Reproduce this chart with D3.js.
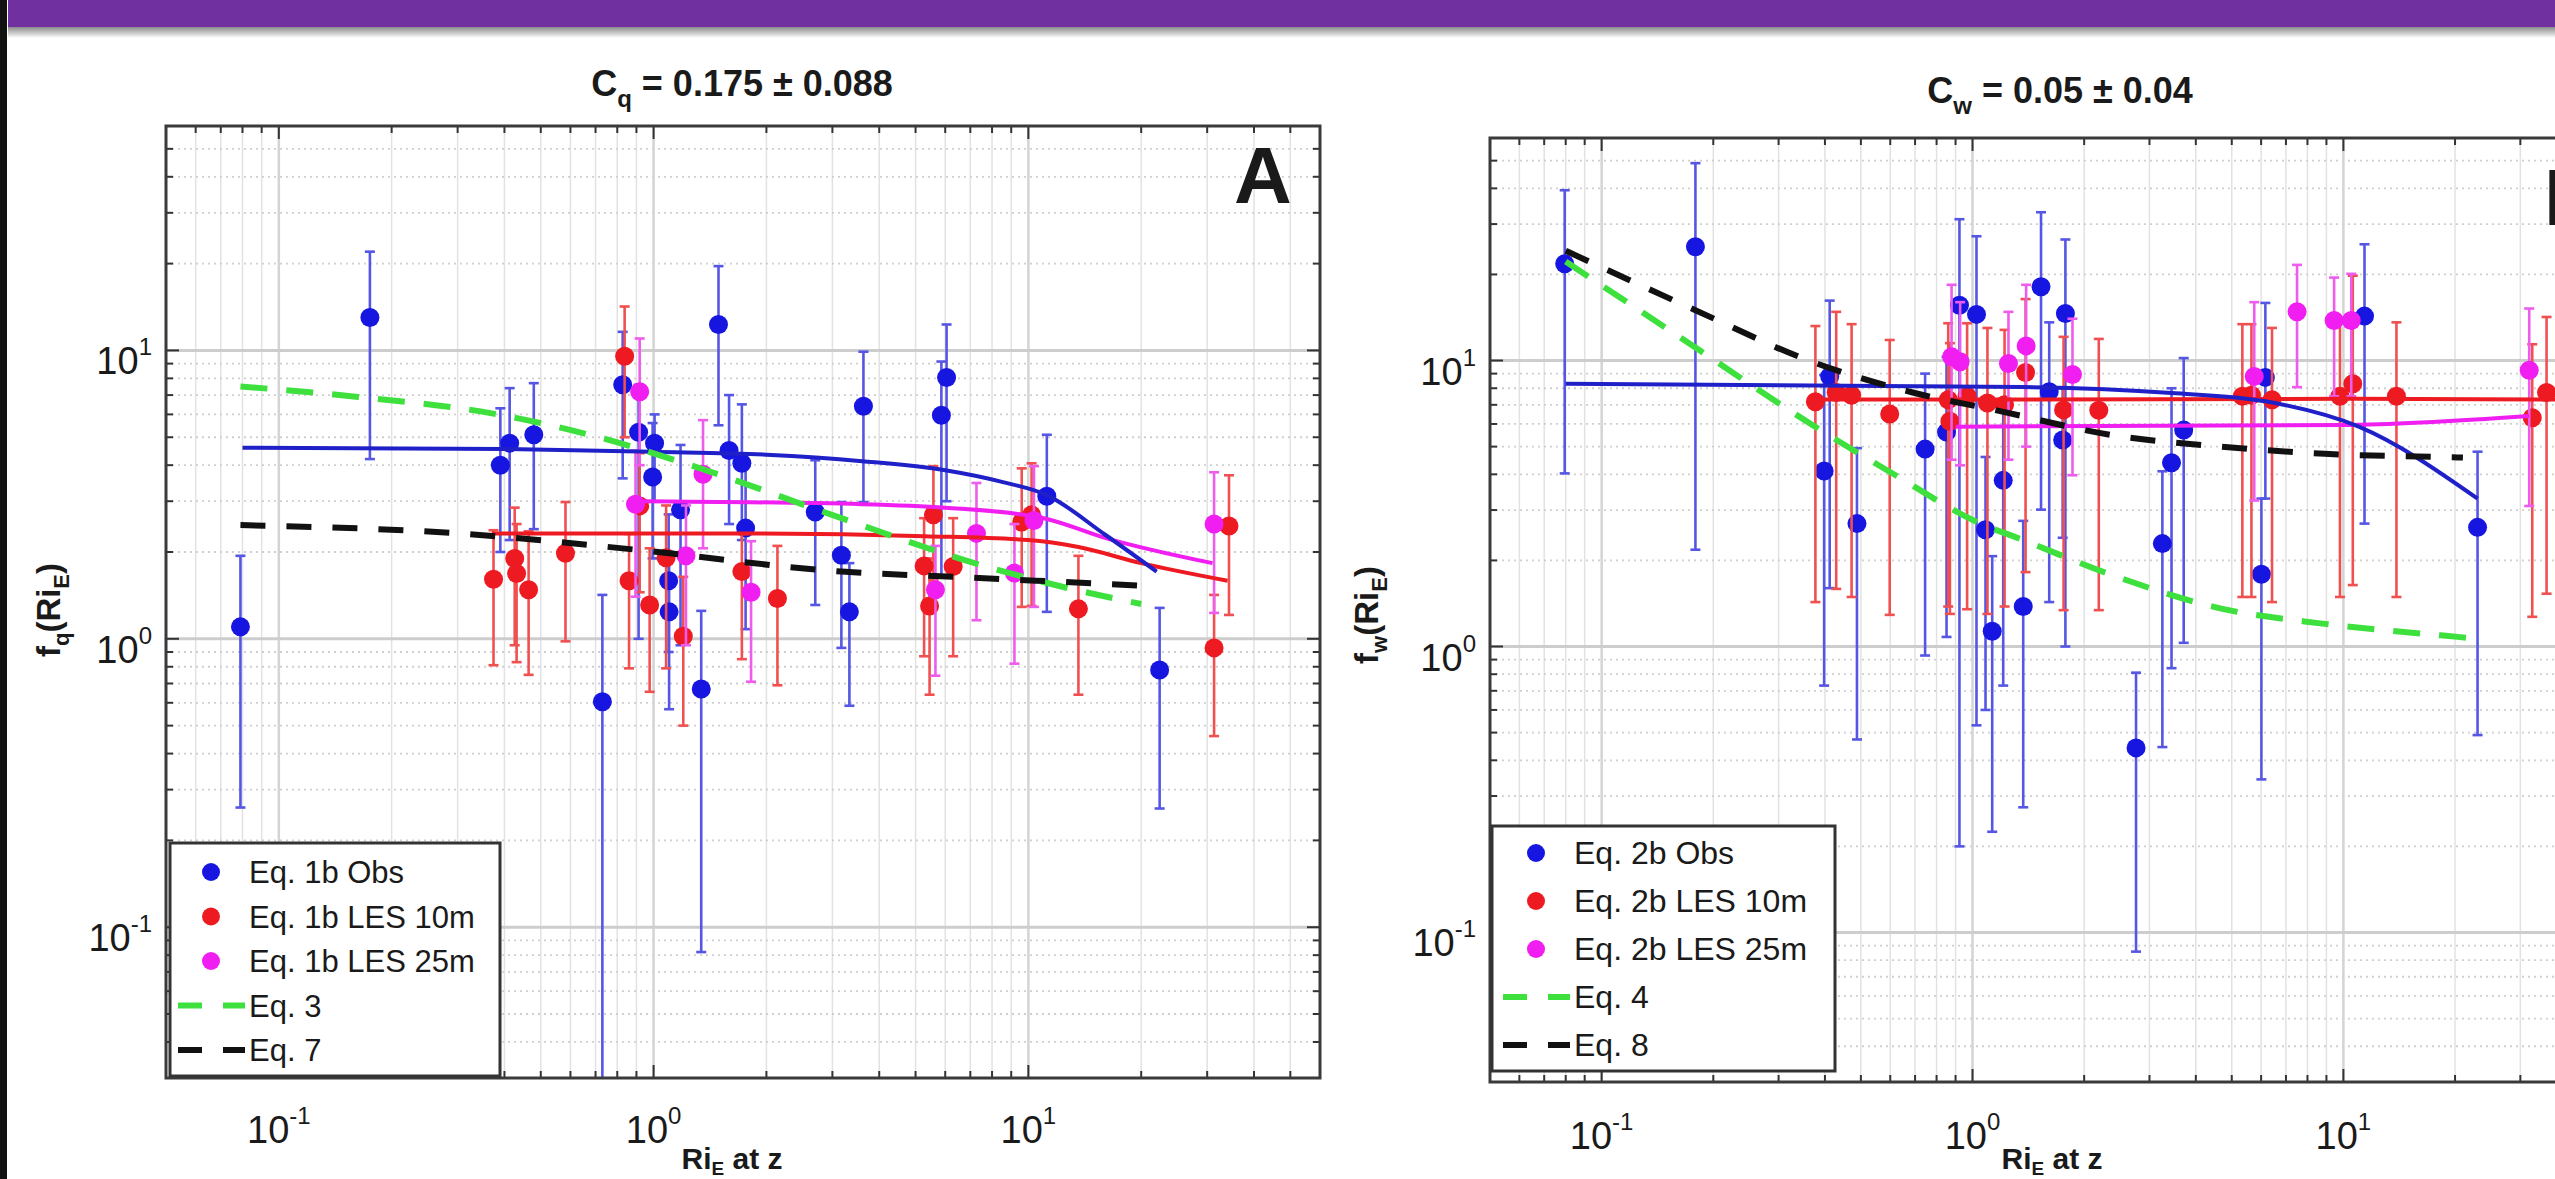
<!DOCTYPE html>
<html>
<head>
<meta charset="utf-8">
<title>f(Ri_E) fits</title>
<script src="https://d3js.org/d3.v7.min.js"></script>
<style>
  body {margin: 0; background: #fff;}
  text {font-family: 'Liberation Sans', Arial, Helvetica, sans-serif; fill: #1a1a1a;}
</style>
</head>
<body>
<svg width="2555" height="1179"></svg>
<script>
// ---- data: [Ri_E, f, lower, upper] ----
var obsQ = [
  [0.079, 1.10, 0.26, 1.94], [0.175, 13.0, 4.2, 22], [0.39, 4.0, 2.0, 6.3], [0.413, 4.77, 2.2, 7.4],
  [0.479, 5.1, 2.4, 7.7], [0.73, 0.605, 0.02, 1.42], [0.827, 7.6, 3.6, 11.6], [0.912, 5.2, 1.0, 7.6],
  [0.994, 3.64, 1.9, 5.6], [1.006, 4.77, 3.0, 6.0], [1.097, 1.59, 0.9, 2.7], [1.10, 1.24, 0.57, 2.0],
  [1.18, 2.8, 0.95, 4.7], [1.34, 0.67, 0.082, 1.25], [1.49, 12.3, 5.5, 19.6], [1.59, 4.5, 2.5, 7.0],
  [1.72, 4.06, 2.2, 6.5], [1.76, 2.42, 1.08, 4.0], [2.7, 2.75, 1.31, 4.16], [3.17, 1.95, 0.93, 2.98],
  [3.33, 1.24, 0.586, 1.83], [3.63, 6.4, 2.98, 9.9], [6.05, 8.05, 3.0, 12.3], [5.86, 5.96, 1.64, 9.15],
  [11.2, 3.12, 1.24, 5.1], [22.4, 0.78, 0.258, 1.28]
];
var les10Q = [
  [0.374, 1.61, 0.81, 2.38], [0.426, 1.90, 0.95, 2.85], [0.431, 1.685, 0.83, 2.5], [0.464, 1.48, 0.75, 2.36],
  [0.582, 1.98, 0.98, 2.98], [0.837, 9.55, 5.0, 14.2], [0.86, 1.59, 0.79, 2.31], [0.918, 2.89, 1.45, 4.4],
  [0.976, 1.31, 0.655, 2.06], [1.08, 1.91, 0.79, 2.9], [1.2, 1.02, 0.50, 1.64], [1.72, 1.71, 0.85, 2.31],
  [2.14, 1.38, 0.69, 2.1], [5.27, 1.79, 0.87, 2.62], [5.45, 1.30, 0.64, 1.9], [5.58, 2.69, 1.6, 3.97],
  [6.3, 1.78, 0.87, 2.62], [9.6, 2.54, 1.29, 3.9], [10.2, 2.69, 1.3, 4.06], [13.6, 1.27, 0.64, 1.94],
  [31.3, 0.93, 0.46, 1.42], [34.3, 2.46, 1.21, 3.69]
];
var les25Q = [
  [0.918, 7.19, 4.0, 11.0], [0.895, 2.93, 1.4, 4.5], [1.355, 3.72, 2.06, 5.73], [1.22, 1.94, 0.95, 2.9],
  [1.82, 1.45, 0.71, 2.18], [5.65, 1.48, 0.745, 2.1], [7.27, 2.32, 1.16, 3.47], [9.18, 1.69, 0.82, 2.5],
  [10.35, 2.57, 1.29, 3.97], [31.3, 2.5, 1.23, 3.78]
];
var fitObsQ = [[0.08, 4.6], [0.4, 4.55], [1, 4.45], [2, 4.35], [3.6, 4.13], [6, 3.84], [8.5, 3.5], [11.2, 3.15], [16, 2.3], [22, 1.71]];
var fit10Q = [[0.37, 2.32], [1.7, 2.32], [5.3, 2.27], [10, 2.2], [13.6, 2.08], [20, 1.83], [34, 1.59]];
var fit25Q = [[0.9, 3.0], [3.6, 2.93], [6, 2.85], [11, 2.62], [16, 2.24], [31, 1.83]];
var eq3 = [[0.079, 7.5], [0.163, 6.9], [0.37, 6.05], [0.73, 4.96], [1.38, 3.84], [3.17, 2.62], [7.6, 1.79], [13.6, 1.47], [20, 1.32]];
var eq7 = [[0.079, 2.48], [0.316, 2.31], [0.92, 2.03], [3.17, 1.71], [6.35, 1.64], [22, 1.52]];

var obsW = [
  [0.0795, 21.8, 4.03, 39.4], [0.179, 25, 2.18, 49], [0.398, 4.11, 0.73, 8.9], [0.412, 8.8, 1.6, 16.2],
  [0.488, 2.69, 0.473, 4.94], [0.745, 4.9, 0.93, 9.0], [0.851, 5.62, 1.08, 10.3], [0.922, 15.6, 0.2, 31.2],
  [1.025, 14.5, 0.53, 27.2], [1.084, 2.56, 0.6, 4.6], [1.13, 1.13, 0.225, 2.07], [1.21, 3.81, 0.73, 7.3],
  [1.37, 1.38, 0.274, 2.75], [1.53, 18.1, 3.01, 33], [1.78, 14.6, 1.0, 26.5], [1.61, 7.78, 1.43, 13.6],
  [1.75, 5.27, 2.4, 8.0], [3.25, 2.29, 0.445, 4.1], [3.44, 4.39, 0.84, 8.0], [3.71, 5.71, 1.03, 10.2],
  [6.16, 8.73, 3.29, 15.9], [6.01, 1.79, 0.343, 3.29], [11.4, 14.3, 2.69, 25.5], [23, 2.61, 0.49, 4.8],
  [2.76, 0.442, 0.0857, 0.81]
];
var les10W = [
  [0.377, 7.18, 1.43, 13.2], [0.429, 7.73, 1.59, 14.8], [0.472, 7.56, 1.49, 13.4], [0.598, 6.5, 1.29, 11.8],
  [0.86, 7.29, 1.38, 13.5], [0.869, 6.13, 1.3, 11.5], [0.967, 7.5, 1.35, 13.5], [1.097, 7.1, 1.3, 13],
  [1.22, 7.0, 1.38, 12.8], [1.39, 9.08, 1.82, 16.4], [1.76, 6.72, 1.34, 12.1], [2.19, 6.7, 1.34, 11.9],
  [5.34, 7.5, 1.49, 13.4], [5.65, 7.56, 1.49, 13.4], [6.42, 7.29, 1.43, 13], [9.79, 7.5, 1.49, 13.8],
  [10.6, 8.3, 1.64, 19.8], [13.9, 7.5, 1.49, 13.6], [32.3, 6.31, 1.27, 11.4], [35.3, 7.73, 1.53, 14.2]
];
var les25W = [
  [0.878, 10.3, 4.5, 18.4], [0.926, 9.9, 4.3, 16], [1.25, 9.76, 4.5, 14.8], [1.395, 11.25, 5.0, 18.4],
  [1.86, 8.93, 3.97, 14], [5.75, 8.8, 3.24, 16], [7.5, 14.8, 8.07, 21.6], [9.44, 13.8, 7.5, 19.5],
  [10.5, 13.8, 7.5, 20.1], [31.7, 9.25, 3.1, 15.2]
];
var fitObsW = [[0.08, 8.3], [1.36, 8.08], [3.44, 7.7], [6.16, 7.2], [11, 5.87], [23, 3.29]];
var fit10W = [[0.38, 7.3], [1, 7.3], [10, 7.35], [40, 7.3]];
var fit25W = [[0.9, 5.87], [10, 5.95], [31.7, 6.4]];
var eq4 = [[0.08, 22.2], [0.179, 11.1], [0.37, 5.95], [0.62, 3.97], [1.05, 2.69], [1.33, 2.39], [2.43, 1.76], [4.65, 1.36], [8.9, 1.2], [18.9, 1.09], [22, 1.07]];
var eq8 = [[0.08, 24.2], [0.179, 15], [0.362, 10], [0.69, 7.73], [1.17, 6.68], [2.43, 5.46], [4.65, 5.0], [8.9, 4.72], [19.7, 4.59], [21, 4.58]];

var xDomain = [0.05, 60], yDomain = [0.03, 60];
var decades = [0.1, 1, 10];
var decadeExp = ["-1", "0", "1"];

var BLUE = "#1616e0", RED = "#ee1a22", MAG = "#f01ef0", GREEN = "#3ee03e", BLACK = "#111";

var svg = d3.select("svg");

// banner and frame
svg.append("rect").attr("x", 0).attr("y", 0).attr("width", 7).attr("height", 1179).attr("fill", "#111");
var grad = svg.append("defs").append("linearGradient").attr("id", "shadow").attr("x1", 0).attr("x2", 0).attr("y1", 0).attr("y2", 1);
grad.append("stop").attr("offset", "0%").attr("stop-color", "#8a8a8a");
grad.append("stop").attr("offset", "100%").attr("stop-color", "#fff");
svg.append("rect").attr("x", 8).attr("y", 27).attr("width", 2547).attr("height", 11).attr("fill", "url(#shadow)");
svg.append("rect").attr("x", 8).attr("y", 0).attr("width", 2547).attr("height", 27).attr("fill", "#7030a0");

function drawPanel(p) {
  var x = d3.scaleLog().domain(xDomain).range([p.left, p.right]);
  var y = d3.scaleLog().domain(yDomain).range([p.bottom, p.top]);
  var g = svg.append("g");

  svg.select("defs").append("clipPath").attr("id", "clip" + p.id)
    .append("rect").attr("x", p.left).attr("y", p.top)
    .attr("width", p.right - p.left).attr("height", p.bottom - p.top);

  // grid
  var xMinor = [], yMinor = [];
  for (var k = -2; k <= 2; k++) {
    for (var m = 2; m <= 9; m++) {
      var v = m * Math.pow(10, k);
      if (v > xDomain[0] && v < xDomain[1]) xMinor.push(v);
      if (v > yDomain[0] && v < yDomain[1]) yMinor.push(v);
    }
  }
  var grid = g.append("g").attr("clip-path", "url(#clip" + p.id + ")");
  grid.selectAll(".vx").data(xMinor).enter().append("line")
    .attr("x1", d => x(d)).attr("x2", d => x(d)).attr("y1", p.top).attr("y2", p.bottom)
    .attr("stroke", "#e2e2e2").attr("stroke-width", 1.5);
  grid.selectAll(".hy").data(yMinor).enter().append("line")
    .attr("y1", d => y(d)).attr("y2", d => y(d)).attr("x1", p.left).attr("x2", p.right)
    .attr("stroke", "#cfcfcf").attr("stroke-width", 1.8).attr("stroke-dasharray", "2,4");
  grid.selectAll(".vX").data(decades).enter().append("line")
    .attr("x1", d => x(d)).attr("x2", d => x(d)).attr("y1", p.top).attr("y2", p.bottom)
    .attr("stroke", "#d4d4d4").attr("stroke-width", 2.5);
  grid.selectAll(".hY").data(decades).enter().append("line")
    .attr("y1", d => y(d)).attr("y2", d => y(d)).attr("x1", p.left).attr("x2", p.right)
    .attr("stroke", "#cdcdcd").attr("stroke-width", 3);

  // ticks (inside, all sides)
  var tk = g.append("g").attr("stroke", "#333").attr("stroke-width", 2);
  xMinor.concat(decades).forEach(function (d) {
    var L = decades.indexOf(d) >= 0 ? 13 : 7;
    tk.append("line").attr("x1", x(d)).attr("x2", x(d)).attr("y1", p.bottom).attr("y2", p.bottom - L);
    tk.append("line").attr("x1", x(d)).attr("x2", x(d)).attr("y1", p.top).attr("y2", p.top + L);
  });
  yMinor.concat(decades).forEach(function (d) {
    var L = decades.indexOf(d) >= 0 ? 13 : 7;
    tk.append("line").attr("y1", y(d)).attr("y2", y(d)).attr("x1", p.left).attr("x2", p.left + L);
    tk.append("line").attr("y1", y(d)).attr("y2", y(d)).attr("x1", p.right).attr("x2", p.right - L);
  });

  // data
  var plot = g.append("g").attr("clip-path", "url(#clip" + p.id + ")");
  function series(data, color, barColor) {
    var s = plot.append("g");
    data.forEach(function (d) {
      var lo = Math.max(d[2], 0.01);
      s.append("line").attr("x1", x(d[0])).attr("x2", x(d[0]))
        .attr("y1", y(lo)).attr("y2", y(d[3]))
        .attr("stroke", barColor).attr("stroke-width", 2.6);
      [lo, d[3]].forEach(function (e) {
        s.append("line").attr("x1", x(d[0]) - 5).attr("x2", x(d[0]) + 5)
          .attr("y1", y(e)).attr("y2", y(e))
          .attr("stroke", barColor).attr("stroke-width", 2.6);
      });
    });
    s.selectAll("circle").data(data).enter().append("circle")
      .attr("cx", d => x(d[0])).attr("cy", d => y(d[1])).attr("r", 9.5)
      .attr("fill", color);
  }
  series(p.obs, BLUE, "#5656e4");
  series(p.les10, RED, "#f05050");
  series(p.les25, MAG, "#ee5cee");

  var line = d3.line().x(d => x(d[0])).y(d => y(d[1])).curve(d3.curveMonotoneX);
  plot.append("path").attr("d", line(p.fit10)).attr("fill", "none").attr("stroke", RED).attr("stroke-width", 4);
  plot.append("path").attr("d", line(p.fit25)).attr("fill", "none").attr("stroke", MAG).attr("stroke-width", 4);
  plot.append("path").attr("d", line(p.fitObs)).attr("fill", "none").attr("stroke", "#2020c8").attr("stroke-width", 4);
  plot.append("path").attr("d", line(p.eqA)).attr("fill", "none").attr("stroke", GREEN).attr("stroke-width", 6).attr("stroke-dasharray", "27,19");
  plot.append("path").attr("d", line(p.eqB)).attr("fill", "none").attr("stroke", BLACK).attr("stroke-width", 6).attr("stroke-dasharray", "25,21");

  // box
  g.append("rect").attr("x", p.left).attr("y", p.top)
    .attr("width", p.right - p.left).attr("height", p.bottom - p.top)
    .attr("fill", "none").attr("stroke", "#3a3a3a").attr("stroke-width", 3);

  // tick labels
  decades.forEach(function (d, i) {
    var t = g.append("text").attr("x", x(d)).attr("y", p.bottom + p.xLabDy)
      .attr("text-anchor", "middle").attr("font-size", 38);
    t.append("tspan").text("10");
    t.append("tspan").attr("dy", -19).attr("font-size", 24).text(decadeExp[i]);
    var u = g.append("text").attr("x", p.left - 14).attr("y", y(d) + 24)
      .attr("text-anchor", "end").attr("font-size", 38);
    u.append("tspan").text("10");
    u.append("tspan").attr("dy", -19).attr("font-size", 24).text(decadeExp[i]);
  });

  // title
  var tt = g.append("text").attr("x", p.titleX).attr("y", p.titleY)
    .attr("text-anchor", "middle").attr("font-size", 36).attr("font-weight", "bold");
  tt.append("tspan").text("C");
  tt.append("tspan").attr("dy", 11).attr("font-size", 24).text(p.sub);
  tt.append("tspan").attr("dy", -11).text(p.title);

  // axis labels
  var yl = g.append("text").attr("transform", "translate(" + p.yLabX + "," + p.yLabY + ") rotate(-90)")
    .attr("text-anchor", "middle").attr("font-size", 33).attr("font-weight", "bold");
  yl.append("tspan").text("f");
  yl.append("tspan").attr("dy", 9).attr("font-size", 22).text(p.sub);
  yl.append("tspan").attr("dy", -9).text("(Ri");
  yl.append("tspan").attr("dy", 9).attr("font-size", 22).text("E");
  yl.append("tspan").attr("dy", -9).text(")");

  var xl = g.append("text").attr("x", p.xLabX).attr("y", 1169)
    .attr("text-anchor", "middle").attr("font-size", 30).attr("font-weight", "bold");
  xl.append("tspan").text("Ri");
  xl.append("tspan").attr("dy", 6).attr("font-size", 19).text("E");
  xl.append("tspan").attr("dy", -6).text(" at z");

  // panel letter
  g.append("text").attr("x", p.letterX).attr("y", p.letterY).attr("text-anchor", p.letterAnchor)
    .attr("font-size", 80).attr("font-weight", "bold").attr("fill", "#000").text(p.letter);

  // legend
  var lg = g.append("g");
  lg.append("rect").attr("x", p.leg.x).attr("y", p.leg.y).attr("width", p.leg.w).attr("height", p.leg.h)
    .attr("fill", "#fff").attr("stroke", "#333").attr("stroke-width", 3);
  p.legendItems.forEach(function (it, i) {
    var cy = p.leg.y + p.leg.first + i * p.leg.step;
    var mx = p.leg.x + p.leg.mark;
    if (it.dash) {
      lg.append("line").attr("x1", mx - 33).attr("x2", mx + 34).attr("y1", cy).attr("y2", cy)
        .attr("stroke", it.color).attr("stroke-width", 6).attr("stroke-dasharray", "24,21");
    } else {
      lg.append("circle").attr("cx", mx).attr("cy", cy).attr("r", 9).attr("fill", it.color);
    }
    lg.append("text").attr("x", mx + 38).attr("y", cy + 11).attr("font-size", p.leg.fs).text(it.label);
  });
}

drawPanel({
  id: "A", left: 166, right: 1320, top: 126, bottom: 1078, xLabDy: 65,
  obs: obsQ, les10: les10Q, les25: les25Q, fitObs: fitObsQ, fit10: fit10Q, fit25: fit25Q, eqA: eq3, eqB: eq7,
  sub: "q", title: " = 0.175 \u00b1 0.088", titleX: 742, titleY: 96,
  yLabX: 60, yLabY: 610, xLabX: 732,
  letter: "A", letterX: 1263, letterY: 203, letterAnchor: "middle",
  leg: {x: 170, y: 843, w: 330, h: 233, first: 29, step: 44.5, mark: 41, fs: 31},
  legendItems: [
    {color: BLUE, label: "Eq. 1b Obs"}, {color: RED, label: "Eq. 1b LES 10m"},
    {color: MAG, label: "Eq. 1b LES 25m"}, {color: GREEN, label: "Eq. 3", dash: true},
    {color: BLACK, label: "Eq. 7", dash: true}
  ]
});

drawPanel({
  id: "B", left: 1490, right: 2632, top: 138, bottom: 1082, xLabDy: 67,
  obs: obsW, les10: les10W, les25: les25W, fitObs: fitObsW, fit10: fit10W, fit25: fit25W, eqA: eq4, eqB: eq8,
  sub: "w", title: " = 0.05 \u00b1 0.04", titleX: 2060, titleY: 103,
  yLabX: 1378, yLabY: 615, xLabX: 2052,
  letter: "B", letterX: 2544, letterY: 225, letterAnchor: "start",
  leg: {x: 1492, y: 826, w: 343, h: 245, first: 27, step: 48, mark: 44, fs: 32},
  legendItems: [
    {color: BLUE, label: "Eq. 2b Obs"}, {color: RED, label: "Eq. 2b LES 10m"},
    {color: MAG, label: "Eq. 2b LES 25m"}, {color: GREEN, label: "Eq. 4", dash: true},
    {color: BLACK, label: "Eq. 8", dash: true}
  ]
});
</script>
</body>
</html>
